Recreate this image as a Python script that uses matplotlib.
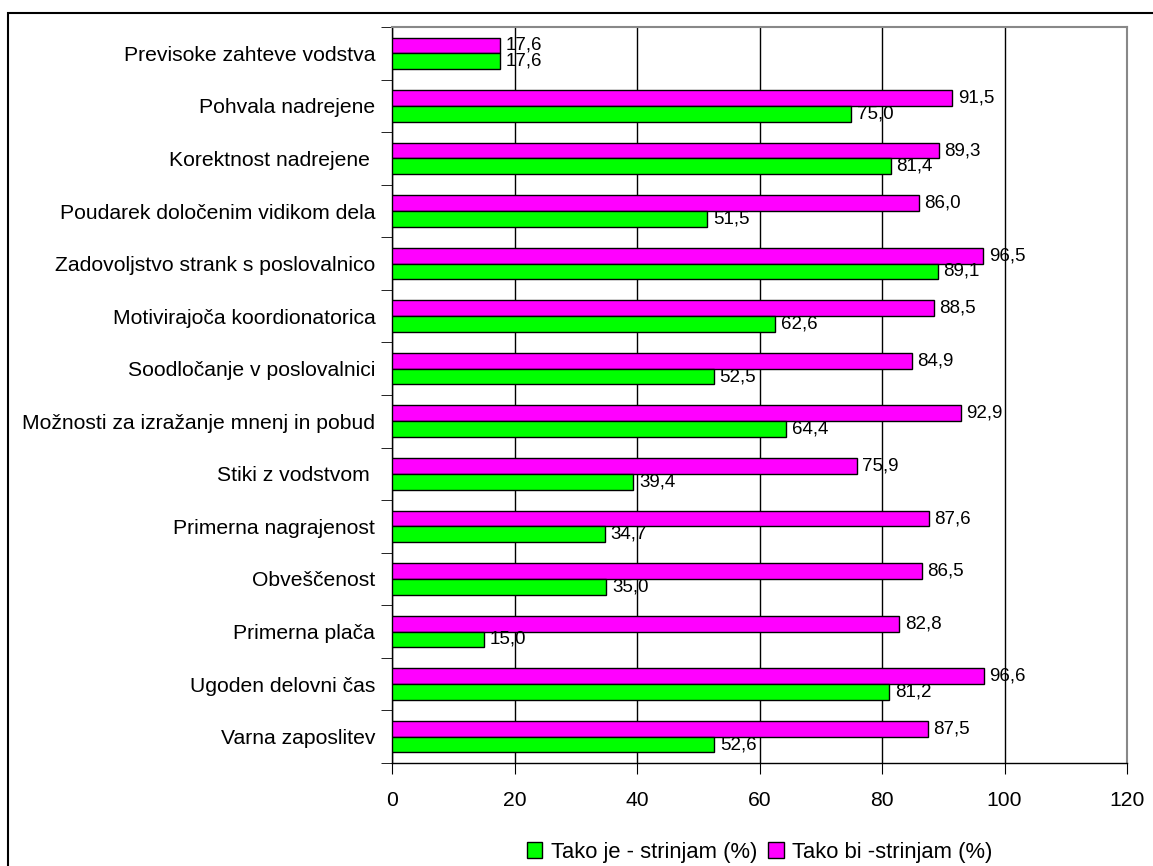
import numpy as np
import matplotlib.pyplot as plt
from matplotlib.patches import Rectangle, Patch

plt.rcParams['font.family'] = ['Liberation Sans', 'DejaVu Sans']

# categories top to bottom
categories = [
    "Previsoke zahteve vodstva",
    "Pohvala nadrejene",
    "Korektnost nadrejene ",
    "Poudarek določenim vidikom dela",
    "Zadovoljstvo strank s poslovalnico",
    "Motivirajoča koordionatorica",
    "Soodločanje v poslovalnici",
    "Možnosti za izražanje mnenj in pobud",
    "Stiki z vodstvom ",
    "Primerna nagrajenost",
    "Obveščenost",
    "Primerna plača",
    "Ugoden delovni čas",
    "Varna zaposlitev",
]
tako_bi = [17.6, 91.5, 89.3, 86.0, 96.5, 88.5, 84.9, 92.9, 75.9, 87.6, 86.5, 82.8, 96.6, 87.5]
tako_je = [17.6, 75.0, 81.4, 51.5, 89.1, 62.6, 52.5, 64.4, 39.4, 34.7, 35.0, 15.0, 81.2, 52.6]

green = "#00ff00"
magenta = "#ff00ff"

fig = plt.figure(figsize=(11.53, 8.66), dpi=100)
ax = fig.add_axes([0.340, 0.119, 0.6375, 0.8498])

n = len(categories)
y = np.arange(n)[::-1].astype(float)
h = 0.3

ax.barh(y + h / 2, tako_bi, height=h, color=magenta, edgecolor="black", linewidth=1, zorder=3)
ax.barh(y - h / 2, tako_je, height=h, color=green, edgecolor="black", linewidth=1, zorder=3)

for yi, v in zip(y, tako_bi):
    ax.text(v + 0.9, yi + h / 2, f"{v:.1f}".replace(".", ","), va="center", ha="left", fontsize=13.5, zorder=4)
for yi, v in zip(y, tako_je):
    ax.text(v + 0.9, yi - h / 2, f"{v:.1f}".replace(".", ","), va="center", ha="left", fontsize=13.5, zorder=4)

ax.set_xlim(0, 120)
ax.set_ylim(-0.5, n - 0.5)
ax.set_xticks(np.arange(0, 121, 20))
ax.tick_params(axis="x", labelsize=15.2, length=8, direction="out", pad=12)

ax.set_yticks(y)
ax.set_yticklabels(categories, fontsize=15.2)
ax.tick_params(axis="y", which="major", length=0, pad=12)
ax.set_yticks(np.arange(-0.5, n, 1), minor=True)
ax.tick_params(axis="y", which="minor", length=8, direction="out", color="black")

ax.xaxis.grid(True, color="black", linewidth=1, zorder=0)
ax.set_axisbelow(True)

for side in ["top", "right"]:
    ax.spines[side].set_color("#888888")
    ax.spines[side].set_linewidth(1.5)
for side in ["left", "bottom"]:
    ax.spines[side].set_color("black")
    ax.spines[side].set_linewidth(1)

# outer chart border
fig.patches.append(Rectangle((8 / 1153, -0.1), 1.2, 1.1 - 13 / 866, transform=fig.transFigure,
                             fill=False, edgecolor="black", linewidth=1.5))

handles = [Patch(facecolor=green, edgecolor="black", label="Tako je - strinjam (%)"),
           Patch(facecolor=magenta, edgecolor="black", label="Tako bi -strinjam (%)")]
fig.legend(handles=handles, loc="center", bbox_to_anchor=(0.659, 0.016), ncol=2, frameon=False,
           fontsize=15.8, handlelength=0.7, handleheight=0.7, handletextpad=0.4, columnspacing=0.5)

plt.savefig("out.png", dpi=100)
